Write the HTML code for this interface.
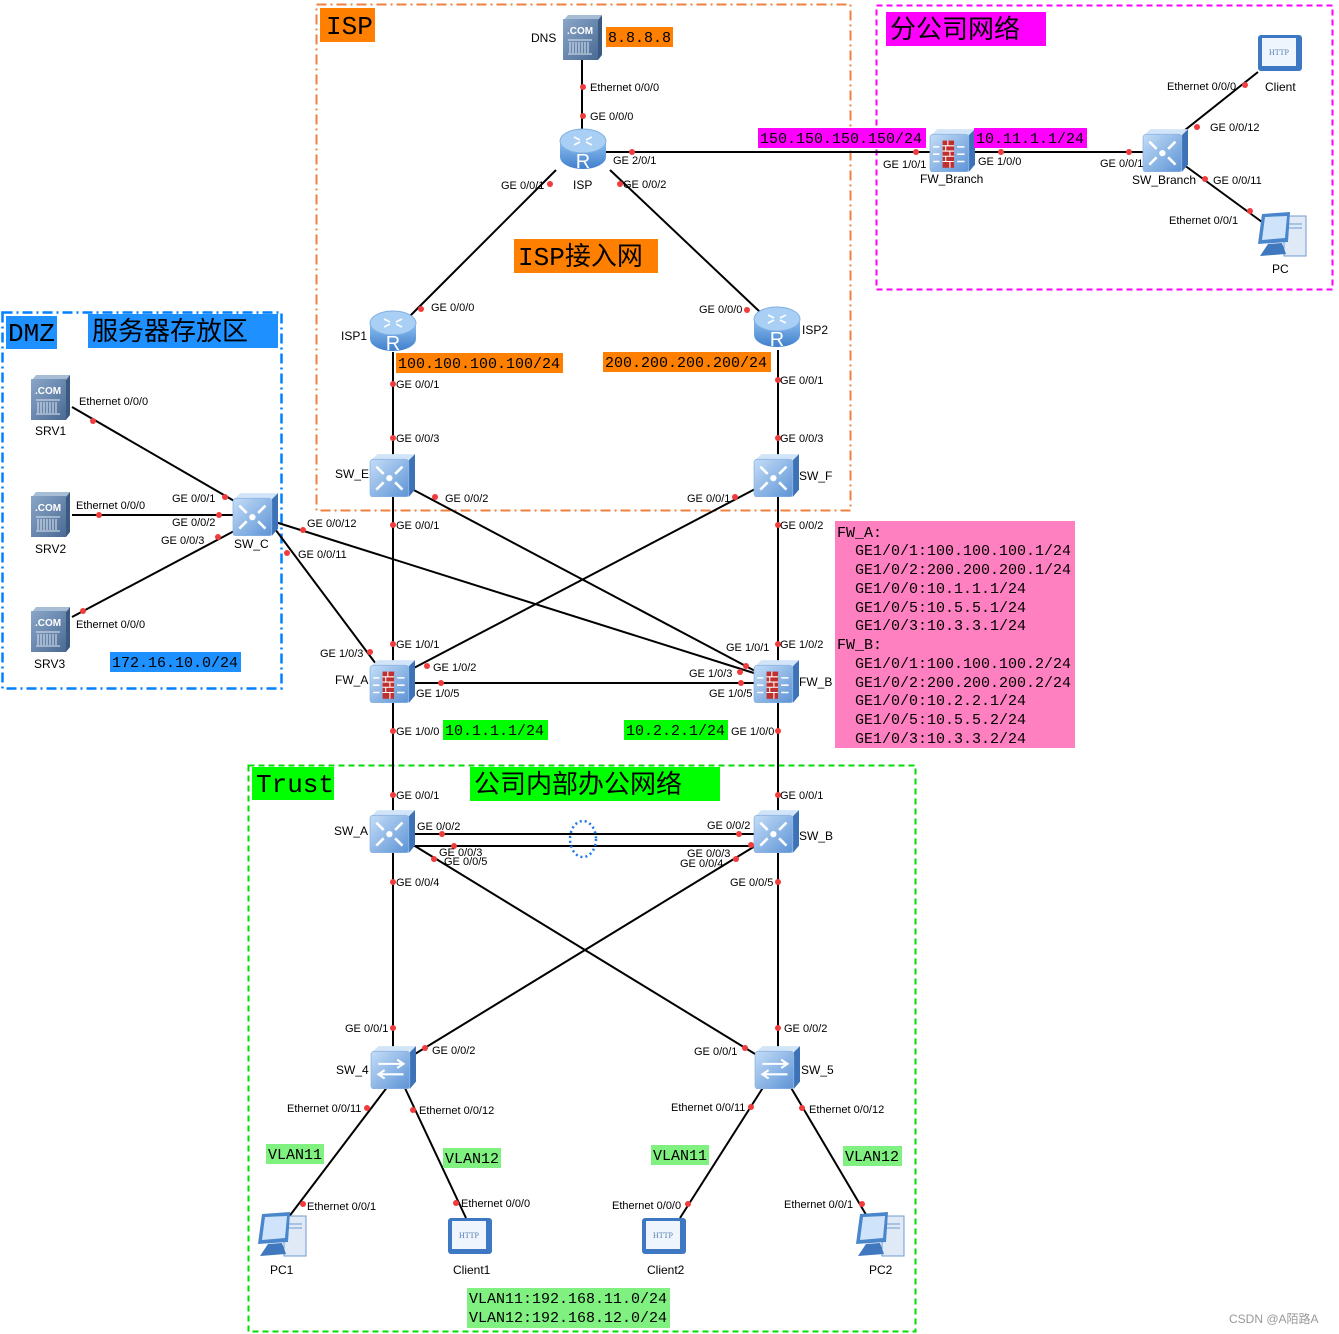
<!DOCTYPE html>
<html><head><meta charset="utf-8"><style>
html,body{margin:0;padding:0;background:#fff;}
svg{display:block;}
.t{font-family:"Liberation Sans",sans-serif;font-size:11px;fill:#000;}
.n{font-family:"Liberation Sans",sans-serif;font-size:12px;fill:#000;}
.m{font-family:"Liberation Mono","DejaVu Sans Mono",monospace;font-size:15px;fill:#000;}
.c{font-family:"Liberation Sans","Noto Sans CJK SC",sans-serif;font-size:26px;fill:#000;}
</style></head><body>
<svg width="1339" height="1334" viewBox="0 0 1339 1334" xmlns="http://www.w3.org/2000/svg">
<defs>
<linearGradient id="gf" x1="0" y1="0" x2="1" y2="1"><stop offset="0" stop-color="#c4ddf7"/><stop offset="1" stop-color="#5c93d6"/></linearGradient>
<linearGradient id="gr" x1="0" y1="0" x2="0" y2="1"><stop offset="0" stop-color="#8fc0f0"/><stop offset="1" stop-color="#3f7fcc"/></linearGradient>
<linearGradient id="gs" x1="0" y1="0" x2="1" y2="1"><stop offset="0" stop-color="#8aa6c8"/><stop offset="1" stop-color="#4a6a94"/></linearGradient>
<symbol id="cube" viewBox="0 0 44 42"><polygon points="2,7 8,1 44,1 38,7" fill="#d2e4f8"/><polygon points="38,7 44,1 44,35 38,42" fill="#3d72b6"/><rect x="1" y="6" width="37" height="36" rx="3" fill="url(#gf)" stroke="#8fb6e4" stroke-width="0.8"/></symbol>
<symbol id="l3" viewBox="0 0 44 42"><use href="#cube" width="44" height="42"/><g stroke="#fff" stroke-width="2.5" fill="none"><path d="M7 13 l7 7 M7 35 l7 -7 M32 13 l-7 7 M32 35 l-7 -7"/></g><circle cx="19.5" cy="24" r="3" fill="#fff"/></symbol>
<symbol id="l2" viewBox="0 0 44 42"><use href="#cube" width="44" height="42"/><g stroke="#fff" stroke-width="2" fill="none"><path d="M8 18 h24 M8 28 h24 M26 14 l6 4 -6 4 M14 24 l-6 4 6 4"/></g></symbol>
<symbol id="fw" viewBox="0 0 44 42"><use href="#cube" width="44" height="42"/><rect x="13" y="12" width="11" height="26" fill="#c0302f"/><g stroke="#fff" stroke-width="1"><path d="M13 17h11M13 22h11M13 27h11M13 32h11M18 12v5M16 17v5M20 22v5M16 27v5M20 32v6"/></g><g stroke="#fff" stroke-width="1.5"><path d="M4 18h6M4 25h6M4 32h6M27 18h7M27 25h7M27 32h7"/></g></symbol>
<symbol id="rt" viewBox="0 0 48 44"><path d="M1 14 v16 a23 12 0 0 0 46 0 v-16z" fill="url(#gr)"/><ellipse cx="24" cy="14" rx="23" ry="12" fill="#a9cff4" stroke="#7fb0e4"/><g stroke="#fff" stroke-width="1.6" fill="none"><path d="M15 10l6 3M33 10l-6 3M15 18l6-3M33 18l-6-3"/></g><text x="24" y="41" text-anchor="middle" font-family="Liberation Sans,sans-serif" font-size="20" fill="#fff">R</text></symbol>
<symbol id="srv" viewBox="0 0 40 46"><polygon points="2,6 6,1 40,1 36,6" fill="#a7bdd6"/><polygon points="36,6 40,1 40,41 36,46" fill="#3a5a82"/><rect x="1" y="5" width="35" height="41" fill="url(#gs)"/><text x="18" y="20" text-anchor="middle" font-family="Liberation Sans,sans-serif" font-weight="bold" font-size="10" fill="#fff">.COM</text><g stroke="#dfe8f2" stroke-width="1"><path d="M6 26h24M6 40h24M8 28v11M11 28v11M14 28v11M17 28v11M20 28v11M23 28v11M26 28v11"/></g></symbol>
<symbol id="pc" viewBox="0 0 52 50"><rect x="28" y="6" width="22" height="40" fill="#dfeaf6" stroke="#6f9bd0"/><path d="M32 14h14M32 18h14" stroke="#6f9bd0"/><polygon points="6,4 34,2 32,32 2,34" fill="#4a86cc"/><polygon points="9,7 31,6 29,28 6,30" fill="#cfe4fa"/><polygon points="12,34 26,33 30,44 4,46" fill="#3f78bf"/></symbol>
<symbol id="cl" viewBox="0 0 48 42"><rect x="2" y="4" width="44" height="36" rx="3" fill="#3f78c2"/><rect x="6" y="7" width="34" height="28" fill="#eef5fd"/><text x="23" y="24" text-anchor="middle" font-family="Liberation Serif,serif" font-size="8" fill="#5a7fb0">HTTP</text></symbol>
</defs>

<rect x="316.5" y="4.5" width="534" height="506" fill="none" stroke="#f08040" stroke-width="2" stroke-dasharray="10,4,2,4"/>
<rect x="876.5" y="5.5" width="456" height="284" fill="none" stroke="#ff00ff" stroke-width="2" stroke-dasharray="6,4"/>
<rect x="2.5" y="312.5" width="279" height="376" fill="none" stroke="#0080ff" stroke-width="2.5" stroke-dasharray="10,4,2,4"/>
<rect x="248.5" y="765.5" width="667" height="566" fill="none" stroke="#00dd00" stroke-width="2" stroke-dasharray="6,4"/>

<rect x="320" y="8" width="55" height="34" fill="#ff8000"/><text x="326" y="34" class="c" style="font-family:'Liberation Mono',monospace">ISP</text>
<rect x="886" y="12" width="160" height="34" fill="#ff00ff"/><text x="890" y="38" class="c">分公司网络</text>
<rect x="6" y="316" width="51" height="33" fill="#1e90ff"/><text x="8" y="341" class="c" style="font-family:'Liberation Mono',monospace">DMZ</text>
<rect x="88" y="314" width="190" height="34" fill="#1e90ff"/><text x="92" y="340" class="c">服务器存放区</text>
<rect x="252" y="767" width="82" height="33" fill="#00ff00"/><text x="256" y="792" class="c" style="font-family:'Liberation Mono',monospace">Trust</text>
<rect x="470" y="767" width="250" height="34" fill="#00ff00"/><text x="474" y="793" class="c">公司内部办公网络</text>
<rect x="514" y="239" width="144" height="34" fill="#ff8000"/><text x="518" y="265" class="c"><tspan style="font-family:'Liberation Mono',monospace">ISP</tspan>接入网</text>

<g stroke="#000" stroke-width="2" fill="none">
<path d="M582 58 V132"/>
<path d="M556 170 L410 316"/>
<path d="M610 170 L760 312"/>
<path d="M605 152 H932"/>
<path d="M972 152 H1146"/>
<path d="M1180 134 L1258 72"/>
<path d="M1180 162 L1262 222"/>
<path d="M393 352 V1050"/>
<path d="M778 350 V1050"/>
<path d="M410 488 L757 672"/>
<path d="M757 488 L410 670"/>
<path d="M410 683 H757"/>
<path d="M272 525 L376 664"/>
<path d="M272 521 L757 674"/>
<path d="M72 407 L236 502"/>
<path d="M72 515 H234"/>
<path d="M72 617 L236 530"/>
<path d="M410 834 H757"/>
<path d="M410 846 H757"/>
<path d="M410 843 L760 1057"/>
<path d="M760 843 L410 1057"/>
<path d="M388 1086 L288 1218"/>
<path d="M404 1086 L466 1218"/>
<path d="M764 1086 L680 1218"/>
<path d="M790 1086 L868 1218"/>
</g>
<ellipse cx="583" cy="839" rx="13" ry="18" fill="none" stroke="#1e78e6" stroke-width="2.5" stroke-dasharray="2,3"/>

<use href="#srv" x="562" y="14" width="40" height="46"/>
<use href="#rt" x="559" y="127" width="48" height="44"/>
<use href="#rt" x="369" y="309" width="48" height="44"/>
<use href="#rt" x="753" y="305" width="48" height="44"/>
<use href="#l3" x="369" y="453" width="46" height="44"/>
<use href="#l3" x="753" y="453" width="46" height="44"/>
<use href="#fw" x="369" y="659" width="46" height="44"/>
<use href="#fw" x="753" y="659" width="46" height="44"/>
<use href="#l3" x="369" y="809" width="46" height="44"/>
<use href="#l3" x="753" y="809" width="46" height="44"/>
<use href="#l2" x="370" y="1045" width="46" height="44"/>
<use href="#l2" x="754" y="1045" width="46" height="44"/>
<use href="#l3" x="232" y="492" width="46" height="44"/>
<use href="#srv" x="30" y="374" width="40" height="46"/>
<use href="#srv" x="30" y="491" width="40" height="46"/>
<use href="#srv" x="30" y="606" width="40" height="46"/>
<use href="#fw" x="929" y="128" width="46" height="44"/>
<use href="#l3" x="1142" y="128" width="46" height="44"/>
<use href="#cl" x="1256" y="31" width="48" height="42"/>
<use href="#pc" x="1256" y="210" width="52" height="50"/>
<use href="#pc" x="256" y="1210" width="52" height="50"/>
<use href="#cl" x="446" y="1214" width="48" height="42"/>
<use href="#cl" x="640" y="1214" width="48" height="42"/>
<use href="#pc" x="854" y="1210" width="52" height="50"/>

<g fill="#f03c3c">
<circle cx="583" cy="87" r="3"/><circle cx="583" cy="116" r="3"/><circle cx="632" cy="152" r="3"/><circle cx="550" cy="184" r="3"/><circle cx="620" cy="184" r="3"/>
<circle cx="421" cy="309" r="3"/><circle cx="747" cy="310" r="3"/><circle cx="393" cy="384" r="3"/><circle cx="778" cy="380" r="3"/>
<circle cx="393" cy="438" r="3"/><circle cx="778" cy="438" r="3"/><circle cx="435" cy="497" r="3"/><circle cx="735" cy="497" r="3"/>
<circle cx="393" cy="525" r="3"/><circle cx="778" cy="525" r="3"/><circle cx="393" cy="644" r="3"/><circle cx="778" cy="644" r="3"/>
<circle cx="370" cy="652" r="3"/><circle cx="427" cy="666" r="3"/><circle cx="746" cy="666" r="3"/><circle cx="740" cy="672" r="3"/>
<circle cx="441" cy="683" r="3"/><circle cx="741" cy="683" r="3"/><circle cx="393" cy="731" r="3"/><circle cx="778" cy="731" r="3"/>
<circle cx="393" cy="795" r="3"/><circle cx="778" cy="795" r="3"/><circle cx="442" cy="834" r="3"/><circle cx="739" cy="834" r="3"/>
<circle cx="454" cy="846" r="3"/><circle cx="751" cy="845" r="3"/><circle cx="434" cy="859" r="3"/><circle cx="736" cy="859" r="3"/>
<circle cx="393" cy="882" r="3"/><circle cx="778" cy="882" r="3"/><circle cx="393" cy="1028" r="3"/><circle cx="778" cy="1028" r="3"/>
<circle cx="425" cy="1048" r="3"/><circle cx="745" cy="1048" r="3"/><circle cx="367" cy="1108" r="3"/><circle cx="413" cy="1110" r="3"/>
<circle cx="751" cy="1107" r="3"/><circle cx="802" cy="1108" r="3"/><circle cx="303" cy="1204" r="3"/><circle cx="456" cy="1203" r="3"/>
<circle cx="688" cy="1204" r="3"/><circle cx="862" cy="1204" r="3"/>
<circle cx="93" cy="421" r="3"/><circle cx="99" cy="515" r="3"/><circle cx="225" cy="497" r="3"/><circle cx="219" cy="515" r="3"/><circle cx="218" cy="537" r="3"/>
<circle cx="303" cy="530" r="3"/><circle cx="287" cy="553" r="3"/><circle cx="83" cy="611" r="3"/>
<circle cx="916" cy="152" r="3"/><circle cx="1001" cy="152" r="3"/><circle cx="1129" cy="152" r="3"/><circle cx="1197" cy="127" r="3"/><circle cx="1205" cy="179" r="3"/>
<circle cx="1245" cy="85" r="3"/><circle cx="1250" cy="211" r="3"/>
</g>

<g class="t">
<text x="590" y="91">Ethernet 0/0/0</text><text x="590" y="120">GE 0/0/0</text><text x="613" y="164">GE 2/0/1</text>
<text x="501" y="189">GE 0/0/1</text><text x="623" y="188">GE 0/0/2</text>
<text x="431" y="311">GE 0/0/0</text><text x="699" y="313">GE 0/0/0</text>
<text x="396" y="388">GE 0/0/1</text><text x="780" y="384">GE 0/0/1</text>
<text x="396" y="442">GE 0/0/3</text><text x="780" y="442">GE 0/0/3</text>
<text x="445" y="502">GE 0/0/2</text><text x="687" y="502">GE 0/0/1</text>
<text x="396" y="529">GE 0/0/1</text><text x="780" y="529">GE 0/0/2</text>
<text x="396" y="648">GE 1/0/1</text><text x="780" y="648">GE 1/0/2</text>
<text x="320" y="657">GE 1/0/3</text><text x="433" y="671">GE 1/0/2</text>
<text x="726" y="651">GE 1/0/1</text><text x="689" y="677">GE 1/0/3</text>
<text x="416" y="697">GE 1/0/5</text><text x="709" y="697">GE 1/0/5</text>
<text x="396" y="735">GE 1/0/0</text><text x="731" y="735">GE 1/0/0</text>
<text x="396" y="799">GE 0/0/1</text><text x="780" y="799">GE 0/0/1</text>
<text x="417" y="830">GE 0/0/2</text><text x="707" y="829">GE 0/0/2</text>
<text x="439" y="856">GE 0/0/3</text><text x="444" y="865">GE 0/0/5</text>
<text x="687" y="857">GE 0/0/3</text><text x="680" y="867">GE 0/0/4</text>
<text x="396" y="886">GE 0/0/4</text><text x="730" y="886">GE 0/0/5</text>
<text x="345" y="1032">GE 0/0/1</text><text x="784" y="1032">GE 0/0/2</text>
<text x="432" y="1054">GE 0/0/2</text><text x="694" y="1055">GE 0/0/1</text>
<text x="287" y="1112">Ethernet 0/0/11</text><text x="419" y="1114">Ethernet 0/0/12</text>
<text x="671" y="1111">Ethernet 0/0/11</text><text x="809" y="1113">Ethernet 0/0/12</text>
<text x="307" y="1210">Ethernet 0/0/1</text><text x="461" y="1207">Ethernet 0/0/0</text>
<text x="612" y="1209">Ethernet 0/0/0</text><text x="784" y="1208">Ethernet 0/0/1</text>
<text x="79" y="405">Ethernet 0/0/0</text><text x="76" y="509">Ethernet 0/0/0</text>
<text x="172" y="502">GE 0/0/1</text><text x="172" y="526">GE 0/0/2</text><text x="161" y="544">GE 0/0/3</text>
<text x="307" y="527">GE 0/0/12</text><text x="298" y="558">GE 0/0/11</text><text x="76" y="628">Ethernet 0/0/0</text>
<text x="883" y="168">GE 1/0/1</text><text x="978" y="165">GE 1/0/0</text><text x="1100" y="167">GE 0/0/1</text>
<text x="1210" y="131">GE 0/0/12</text><text x="1213" y="184">GE 0/0/11</text>
<text x="1167" y="90">Ethernet 0/0/0</text><text x="1169" y="224">Ethernet 0/0/1</text>
</g>
<g class="n">
<text x="531" y="42">DNS</text><text x="573" y="189">ISP</text><text x="341" y="340">ISP1</text><text x="802" y="334">ISP2</text>
<text x="335" y="478">SW_E</text><text x="799" y="480">SW_F</text><text x="335" y="684">FW_A</text><text x="799" y="686">FW_B</text>
<text x="334" y="835">SW_A</text><text x="799" y="840">SW_B</text><text x="336" y="1074">SW_4</text><text x="801" y="1074">SW_5</text>
<text x="270" y="1274">PC1</text><text x="453" y="1274">Client1</text><text x="647" y="1274">Client2</text><text x="869" y="1274">PC2</text>
<text x="35" y="435">SRV1</text><text x="35" y="553">SRV2</text><text x="34" y="668">SRV3</text><text x="234" y="548">SW_C</text>
<text x="920" y="183">FW_Branch</text><text x="1132" y="184">SW_Branch</text><text x="1265" y="91">Client</text><text x="1272" y="273">PC</text>
</g>

<rect x="606" y="27" width="67" height="20" fill="#ff8000"/><text x="608" y="42" class="m">8.8.8.8</text>
<rect x="396" y="353" width="167" height="20" fill="#ff8000"/><text x="398" y="368" class="m">100.100.100.100/24</text>
<rect x="603" y="352" width="168" height="20" fill="#ff8000"/><text x="605" y="367" class="m">200.200.200.200/24</text>
<rect x="758" y="128" width="168" height="20" fill="#ff00ff"/><text x="760" y="143" class="m">150.150.150.150/24</text>
<rect x="974" y="128" width="113" height="20" fill="#ff00ff"/><text x="976" y="143" class="m">10.11.1.1/24</text>
<rect x="110" y="652" width="131" height="20" fill="#1e90ff"/><text x="112" y="667" class="m">172.16.10.0/24</text>
<rect x="443" y="720" width="105" height="20" fill="#00ff00"/><text x="445" y="735" class="m">10.1.1.1/24</text>
<rect x="624" y="720" width="104" height="20" fill="#00ff00"/><text x="626" y="735" class="m">10.2.2.1/24</text>
<rect x="266" y="1144" width="58" height="20" fill="#80f080"/><text x="268" y="1159" class="m">VLAN11</text>
<rect x="443" y="1148" width="58" height="20" fill="#80f080"/><text x="445" y="1163" class="m">VLAN12</text>
<rect x="651" y="1145" width="58" height="20" fill="#80f080"/><text x="653" y="1160" class="m">VLAN11</text>
<rect x="843" y="1146" width="59" height="20" fill="#80f080"/><text x="845" y="1161" class="m">VLAN12</text>
<rect x="467" y="1288" width="203" height="40" fill="#80f080"/><text x="469" y="1303" class="m">VLAN11:192.168.11.0/24</text><text x="469" y="1322" class="m">VLAN12:192.168.12.0/24</text>

<rect x="835" y="521" width="240" height="227" fill="#ff80c0"/>
<g class="m">
<text x="837" y="537">FW_A:</text>
<text x="855" y="555">GE1/0/1:100.100.100.1/24</text>
<text x="855" y="574">GE1/0/2:200.200.200.1/24</text>
<text x="855" y="593">GE1/0/0:10.1.1.1/24</text>
<text x="855" y="612">GE1/0/5:10.5.5.1/24</text>
<text x="855" y="630">GE1/0/3:10.3.3.1/24</text>
<text x="837" y="649">FW_B:</text>
<text x="855" y="668">GE1/0/1:100.100.100.2/24</text>
<text x="855" y="687">GE1/0/2:200.200.200.2/24</text>
<text x="855" y="705">GE1/0/0:10.2.2.1/24</text>
<text x="855" y="724">GE1/0/5:10.5.5.2/24</text>
<text x="855" y="743">GE1/0/3:10.3.3.2/24</text>
</g>
<text x="1229" y="1323" font-family="Liberation Sans,'Noto Sans CJK SC',sans-serif" font-size="12" fill="#999">CSDN @A陌路A</text>
</svg>
</body></html>
